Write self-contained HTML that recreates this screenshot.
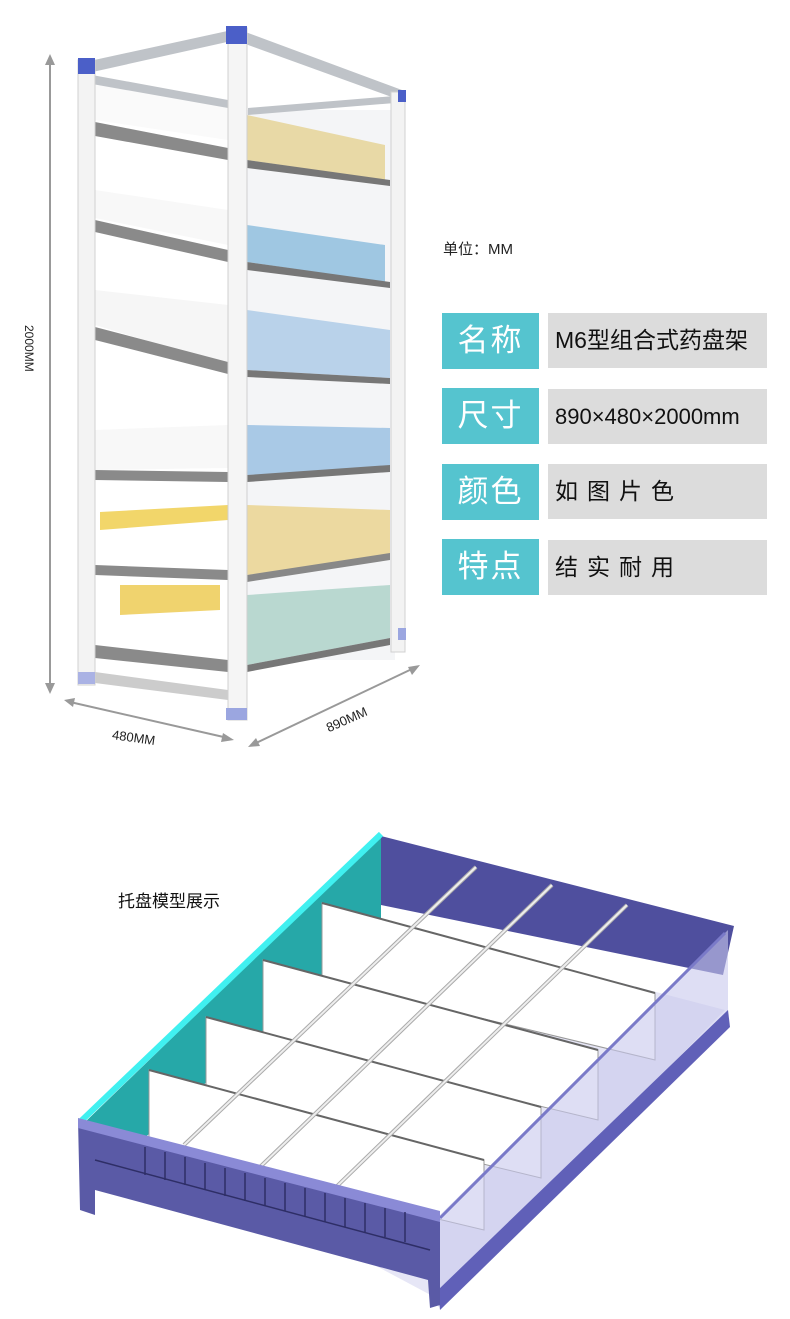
<!DOCTYPE html>
<html><head><meta charset="utf-8"><style>
body{margin:0;background:#fff;width:790px;height:1319px;position:relative;overflow:hidden;font-family:"Liberation Sans","Noto Sans CJK SC",sans-serif}
.t{position:absolute;white-space:nowrap}
.lab{position:absolute;left:442px;width:97px;height:56px;background:#55c4cf;color:#fff;font-size:31px;line-height:56px;text-align:center;letter-spacing:2px}
.val{position:absolute;left:548px;width:219px;height:55px;background:#dcdcdc;color:#111;font-size:23px;line-height:55px;padding-left:7px;box-sizing:border-box}
svg{position:absolute;left:0;top:0}
</style></head><body>
<svg width="790" height="1319" viewBox="0 0 790 1319">
<g stroke="#999" stroke-width="2" fill="#999">
<line x1="50" y1="60" x2="50" y2="688"/>
<polygon points="50,54 45,65 55,65" stroke="none"/><polygon points="50,694 45,683 55,683" stroke="none"/>
<line x1="70" y1="702" x2="228" y2="738"/>
<polygon points="64,700 75,698 73,707" stroke="none"/><polygon points="234,740 223,733 221,742" stroke="none"/>
<line x1="254" y1="744" x2="414" y2="668"/>
<polygon points="248,747 256,738 260,746" stroke="none"/><polygon points="420,665 408,667 412,675" stroke="none"/>
</g>
<g>
<rect x="247" y="110" width="148" height="550" fill="#f4f5f7"/>
<polygon points="247,115 385,145 385,180 247,160" fill="#e8d9a6"/>
<polygon points="247,160 390,180 390,186 247,168" fill="#777"/>
<polygon points="247,225 385,245 385,282 247,262" fill="#9fc7e2"/>
<polygon points="247,262 390,282 390,288 247,270" fill="#777"/>
<polygon points="247,310 390,330 390,378 247,370" fill="#b9d2ea"/>
<polygon points="247,370 390,378 390,384 247,377" fill="#777"/>
<polygon points="247,425 390,428 390,470 247,475" fill="#a9c9e6"/>
<polygon points="247,475 390,465 390,472 247,482" fill="#777"/>
<polygon points="247,505 390,510 390,555 247,575" fill="#ecd9a0"/>
<polygon points="247,575 390,553 390,560 247,582" fill="#888"/>
<polygon points="247,595 390,585 390,638 247,665" fill="#b9d8d0"/>
<polygon points="247,665 390,638 390,645 247,672" fill="#777"/>
</g>
<g>
<polygon points="95,85 228,100 228,140 95,120" fill="#fafafa"/>
<polygon points="95,122 228,148 228,160 95,136" fill="#8a8a8a"/>
<polygon points="95,190 228,210 228,245 95,218" fill="#f8f8f8"/>
<polygon points="95,220 228,250 228,262 95,232" fill="#8a8a8a"/>
<polygon points="95,290 228,305 228,365 95,325" fill="#f6f6f6"/>
<polygon points="95,327 228,362 228,374 95,340" fill="#8a8a8a"/>
<polygon points="95,430 228,425 228,468 95,470" fill="#f8f8f8"/>
<polygon points="95,470 228,472 228,482 95,480" fill="#8a8a8a"/>
<polygon points="100,512 228,505 228,520 100,530" fill="#f2d66a"/>
<polygon points="95,565 228,570 228,580 95,575" fill="#8a8a8a"/>
<polygon points="120,585 220,585 220,610 120,615" fill="#f0d36e"/>
<polygon points="95,645 228,660 228,672 95,658" fill="#8a8a8a"/>
<polygon points="95,672 228,690 228,700 95,683" fill="#ccc"/>
</g>
<g fill="#bfc3c8">
<polygon points="85,62 232,30 236,40 88,73"/>
<polygon points="240,30 402,90 400,100 240,42"/>
<polygon points="92,75 228,100 228,108 92,84"/>
<polygon points="248,108 395,96 395,103 248,115"/>
</g>
<rect x="78" y="60" width="17" height="625" fill="#f3f3f3" stroke="#d0d0d0"/>
<rect x="228" y="28" width="19" height="692" fill="#f5f5f5" stroke="#d0d0d0"/>
<rect x="391" y="92" width="14" height="560" fill="#f3f3f3" stroke="#d0d0d0"/>
<rect x="78" y="58" width="17" height="16" fill="#4b5fc8"/>
<rect x="226" y="26" width="21" height="18" fill="#4b5fc8"/>
<rect x="398" y="90" width="8" height="12" fill="#4b5fc8"/>
<rect x="226" y="708" width="21" height="12" fill="#9ba6e0"/>
<rect x="78" y="672" width="17" height="12" fill="#aab2e4"/>
<rect x="398" y="628" width="8" height="12" fill="#9ba6e0"/>

<!-- tray -->
<polygon points="140,1140 381,920 725,1010 440,1300" fill="#e6e6f6"/>
<polygon points="381,836 734,926 723,975 381,905" fill="#4f4f9e"/>
<polygon points="83,1124 381,836 381,925 140,1142" fill="#26a8a8"/>
<line x1="80" y1="1122" x2="381" y2="834" stroke="#40f0f0" stroke-width="6"/>
<g fill="#fff" stroke="#999" stroke-width="1">
<polygon points="322,903 655,993 655,1060 322,980"/>
<polygon points="263,960 598,1050 598,1120 263,1040"/>
<polygon points="206,1017 541,1107 541,1178 206,1097"/>
<polygon points="149,1070 484,1160 484,1230 149,1150"/>
</g>
<g stroke="#666" stroke-width="2">
<line x1="322" y1="903" x2="655" y2="993"/>
<line x1="263" y1="960" x2="598" y2="1050"/>
<line x1="206" y1="1017" x2="541" y2="1107"/>
<line x1="149" y1="1070" x2="484" y2="1160"/>
</g>
<g stroke="#aaa" stroke-width="4">
<line x1="184" y1="1145" x2="476" y2="867"/>
<line x1="259" y1="1168" x2="552" y2="885"/>
<line x1="333" y1="1190" x2="627" y2="905"/>
</g>
<g stroke="#eee" stroke-width="2">
<line x1="184" y1="1145" x2="476" y2="867"/>
<line x1="259" y1="1168" x2="552" y2="885"/>
<line x1="333" y1="1190" x2="627" y2="905"/>
</g>
<polygon points="438,1217 728,930 728,1027 438,1307" fill="#c8c8ec" opacity="0.6"/>
<polygon points="438,1290 728,1010 730,1027 440,1310" fill="#6060b8"/>
<line x1="440" y1="1218" x2="725" y2="933" stroke="#7a7ac8" stroke-width="3"/>
<polygon points="78,1120 440,1213 440,1305 430,1308 428,1280 95,1190 95,1215 80,1210" fill="#5a5aa6"/>
<polygon points="78,1118 440,1211 440,1222 78,1128" fill="#8a8ad6"/>
<g stroke="#2e2e66" stroke-width="1.5">
<line x1="145" y1="1147" x2="145" y2="1175"/><line x1="165" y1="1152" x2="165" y2="1180"/>
<line x1="185" y1="1157" x2="185" y2="1185"/><line x1="205" y1="1163" x2="205" y2="1190"/>
<line x1="225" y1="1168" x2="225" y2="1196"/><line x1="245" y1="1173" x2="245" y2="1201"/>
<line x1="265" y1="1178" x2="265" y2="1206"/><line x1="285" y1="1183" x2="285" y2="1211"/>
<line x1="305" y1="1188" x2="305" y2="1216"/><line x1="325" y1="1193" x2="325" y2="1222"/>
<line x1="345" y1="1198" x2="345" y2="1227"/><line x1="365" y1="1203" x2="365" y2="1232"/>
<line x1="385" y1="1208" x2="385" y2="1237"/><line x1="405" y1="1212" x2="405" y2="1242"/>
<line x1="95" y1="1160" x2="430" y2="1250"/>
</g>
</svg>

<div class="t" style="font-size:12px;color:#222;transform:rotate(90deg);transform-origin:left top;left:36px;top:325px">2000MM</div>
<div class="t" style="left:112px;top:730px;font-size:13px;color:#222;transform:rotate(8deg)">480MM</div>
<div class="t" style="left:325px;top:712px;font-size:13px;color:#222;transform:rotate(-24deg)">890MM</div>

<div class="t" style="left:443px;top:238px;font-size:15px;color:#222">单位：MM</div>
<div class="lab" style="top:313px">名称</div><div class="val" style="top:313px">M6型组合式药盘架</div>
<div class="lab" style="top:388px">尺寸</div><div class="val" style="top:389px;font-size:22px">890×480×2000mm</div>
<div class="lab" style="top:464px">颜色</div><div class="val" style="top:464px;letter-spacing:9px">如图片色</div>
<div class="lab" style="top:539px">特点</div><div class="val" style="top:540px;letter-spacing:9px">结实耐用</div>

<div class="t" style="left:118px;top:887px;font-size:17px;color:#111">托盘模型展示</div>
</body></html>
